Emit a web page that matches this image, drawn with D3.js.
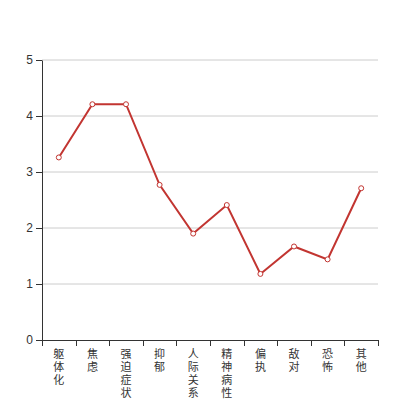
<!DOCTYPE html>
<html>
<head>
<meta charset="utf-8">
<title>line chart</title>
<script src="https://cdn.jsdelivr.net/npm/d3@7"></script>
<style>
  body { margin: 0; background: #fff; }
  .grid line { stroke: #ccc; stroke-width: 1px; }
  .axis text { fill: #333; font-family: "Noto Sans CJK SC", "DejaVu Sans", sans-serif; font-size: 11px; }
  .axis path, .axis line { stroke: #333; }
</style>
</head>
<body>
<script>
// categories and values
var categories = ["躯体化", "焦虑", "强迫症状", "抑郁", "人际关系敏感", "精神病性", "偏执", "敌对", "恐怖", "其他"];
var values = [3.26, 4.21, 4.21, 2.77, 1.9, 2.41, 1.18, 1.67, 1.44, 2.71];
var yTicks = [0, 1, 2, 3, 4, 5];

var width = 420, height = 400;
var margin = {top: 60, right: 42, bottom: 60, left: 42};

var svg = d3.select("body").append("svg")
  .attr("width", width)
  .attr("height", height);

var x = d3.scaleBand()
  .domain(categories)
  .range([margin.left, width - margin.right]);

var y = d3.scaleLinear()
  .domain([0, 5])
  .range([height - margin.bottom, margin.top]);

// grid lines
svg.append("g").attr("class", "grid")
  .selectAll("line")
  .data(yTicks.filter(function(d){ return d > 0; }))
  .enter().append("line")
  .attr("x1", margin.left).attr("x2", width - margin.right)
  .attr("y1", function(d){ return y(d); })
  .attr("y2", function(d){ return y(d); });

// y axis
var yAxis = svg.append("g").attr("class", "axis")
  .attr("transform", "translate(" + margin.left + ",0)")
  .call(d3.axisLeft(y).tickValues(yTicks).tickSizeOuter(0).tickFormat(d3.format("d")));
yAxis.selectAll("text").style("font-family", "Helvetica, Arial, 'Liberation Sans', sans-serif").style("font-size", "12px");

// x axis, ticks on band boundaries
var xAxis = svg.append("g").attr("class", "axis")
  .attr("transform", "translate(0," + (height - margin.bottom) + ")");
xAxis.append("line")
  .attr("x1", margin.left).attr("x2", width - margin.right)
  .attr("y1", 0.5).attr("y2", 0.5);
var bounds = categories.map(function(c){ return x(c); }).concat([x.range()[1]]);
xAxis.selectAll(".tk").data(bounds).enter().append("line")
  .attr("class", "tk")
  .attr("x1", function(d){ return Math.round(d) + 0.5; })
  .attr("x2", function(d){ return Math.round(d) + 0.5; })
  .attr("y1", 0).attr("y2", 6);

// vertical labels: one character per line
var lab = xAxis.selectAll("text").data(categories).enter().append("text")
  .attr("text-anchor", "middle")
  .attr("x", function(d){ return x(d) + x.bandwidth() / 2; });
lab.selectAll("tspan")
  .data(function(d){ return d.split("").map(function(ch){ return {ch: ch, cat: d}; }); })
  .enter().append("tspan")
  .attr("x", function(d){ return x(d.cat) + x.bandwidth() / 2; })
  .attr("y", function(d, i){ return 18 + i * 13; })
  .text(function(d){ return d.ch; });

// line
var line = d3.line()
  .x(function(d, i){ return x(categories[i]) + x.bandwidth() / 2; })
  .y(function(d){ return y(d); });

svg.append("path")
  .datum(values)
  .attr("d", line)
  .attr("fill", "none")
  .attr("stroke", "#c23531")
  .attr("stroke-width", 2);

svg.append("g").selectAll("circle")
  .data(values)
  .enter().append("circle")
  .attr("cx", function(d, i){ return x(categories[i]) + x.bandwidth() / 2; })
  .attr("cy", function(d){ return y(d); })
  .attr("r", 2.5)
  .attr("fill", "#fff")
  .attr("stroke", "#c23531")
  .attr("stroke-width", 1);
</script>
</body>
</html>
